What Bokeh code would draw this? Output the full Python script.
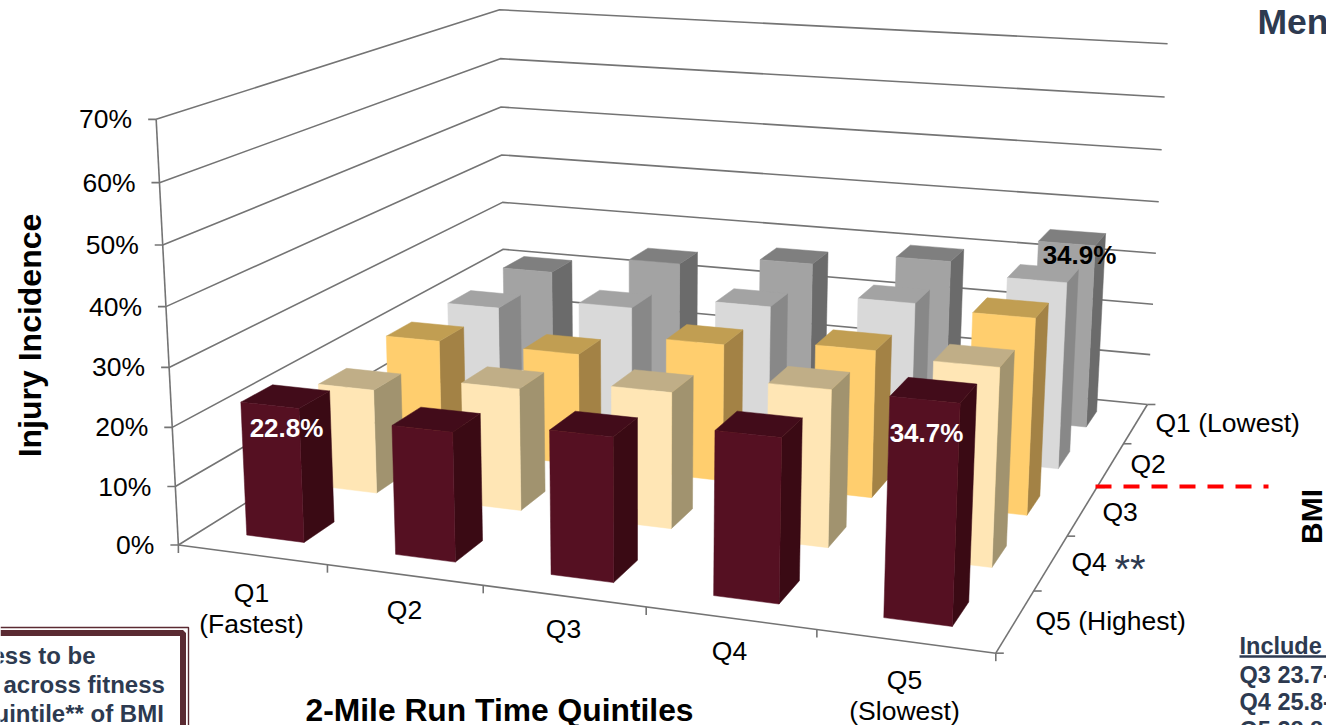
import numpy as np
from bokeh.core.properties import value
from bokeh.embed import file_html
from bokeh.models import Range1d
from bokeh.plotting import figure
from bokeh.resources import INLINE

# Injury incidence (%) by run-time quintile (columns) and BMI quintile (rows, back to front)
run_quintiles = ["Q1", "Q2", "Q3", "Q4", "Q5"]
bmi_q1 = [20.9, 24.8, 27.0, 29.7, 34.9]
bmi_q2 = [20.0, 22.4, 25.0, 28.0, 34.1]
bmi_q3 = [20.3, 20.4, 24.7, 26.2, 34.3]
bmi_q4 = [18.5, 21.4, 23.5, 26.7, 33.0]
bmi_q5 = [22.8, 21.7, 23.8, 26.6, 34.7]
series_rows = [bmi_q5, bmi_q4, bmi_q3, bmi_q2, bmi_q1]  # front row first

value_ticks = [0, 10, 20, 30, 40, 50, 60, 70]
value_max = 70.0

# (front, side, top) shades per row, front row first
row_shades = [
    ("#551022", "#3A0A14", "#420C1A"),
    ("#FFE6B5", "#A1936F", "#C0AE87"),
    ("#FFCE6E", "#A38245", "#C19E52"),
    ("#D9D9D9", "#888888", "#A3A3A3"),
    ("#A3A3A3", "#6B6B6B", "#7F7F7F"),
]

# Camera calibration: box coordinates (across, depth, height) -> page pixels
camera_points = [
    ((0, 0, 0), (178, 545)), ((0, 1, 0), (504, 341)), ((1, 0, 0), (995, 653)), ((1, 1, 0), (1145, 403)),
    ((0, 0, 1), (156, 119)), ((0, 1, 1), (499, 9)), ((1, 1, 1), (1166, 43)),
    ((0, 0, 2 / 7), (172, 427)), ((0, 0, 4 / 7), (165, 305)),
    ((0, 1, 2 / 7), (503, 249)), ((0, 1, 4 / 7), (501, 155)),
    ((1, 1, 2 / 7), (1155, 304)), ((1, 1, 4 / 7), (1159, 202)),
]
rows = []
for (u, v, w), (px, py) in camera_points:
    rows.append([u, v, w, 1, 0, 0, 0, 0, -px * u, -px * v, -px * w, -px])
    rows.append([0, 0, 0, 0, u, v, w, 1, -py * u, -py * v, -py * w, -py])
camera = np.linalg.svd(np.array(rows, dtype=float))[2][-1].reshape(3, 4)


def project(u, v, w):
    x, y, h = camera @ np.array([u, v, w, 1.0])
    return float(x / h), float(y / h)


def polyline(points):
    return [project(*pt)[0] for pt in points], [project(*pt)[1] for pt in points]


p = figure(width=1326, height=725, x_range=Range1d(0, 1326), y_range=Range1d(725, 0),
           x_axis_type=None, y_axis_type=None, toolbar_location=None, output_backend="svg",
           min_border=0, outline_line_color=None, background_fill_color="white", border_fill_color="white")
p.grid.visible = False

AXIS = "#747474"
INK = "#000000"
NAVY = "#2D3A50"
SANS = value("Liberation Sans")

# Wall gridlines, back floor edge and axes
xs, ys = [], []
for t in value_ticks:
    w = t / value_max
    lx, ly = polyline([(0, 0, w), (0, 1, w), (1, 1, w)])
    xs.append(lx)
    ys.append(ly)
for a, b in [((0, 0, 0), (0, 0, 1)), ((0, 0, 0), (1, 0, 0)), ((1, 0, 0), (1, 1, 0))]:
    lx, ly = polyline([a, b])
    xs.append(lx)
    ys.append(ly)
for t in value_ticks:
    x0, y0 = project(0, 0, t / value_max)
    xs.append([x0 - 8, x0])
    ys.append([y0, y0])
for i in range(6):
    x0, y0 = project(i / 5, 0, 0)
    xs.append([x0, x0])
    ys.append([y0, y0 + 8])
for j in range(6):
    x0, y0 = project(1, j / 5, 0)
    xs.append([x0, x0 + 8])
    ys.append([y0, y0])
p.multi_line(xs, ys, line_color=AXIS, line_width=1.6)

# Columns, painted back row first
GAP_LEFT, GAP_RIGHT, GAP_V = 0.30, 0.31, 0.30
face_x, face_y, face_c = [], [], []
for j in range(4, -1, -1):
    for i in range(5):
        w = series_rows[j][i] / value_max
        u0, u1 = (i + GAP_LEFT) / 5, (i + 1 - GAP_RIGHT) / 5
        v0, v1 = (j + GAP_V) / 5, (j + 1 - GAP_V) / 5
        front, side, top = row_shades[j]
        faces = [
            ([(u1, v0, 0), (u1, v1, 0), (u1, v1, w), (u1, v0, w)], side),
            ([(u0, v0, w), (u1, v0, w), (u1, v1, w), (u0, v1, w)], top),
            ([(u0, v0, 0), (u1, v0, 0), (u1, v0, w), (u0, v0, w)], front),
        ]
        for pts, colour in faces:
            fx, fy = polyline(pts)
            face_x.append(fx)
            face_y.append(fy)
            face_c.append(colour)
p.patches(face_x, face_y, fill_color=face_c, line_color=face_c, line_width=0.5)


def label(x, y, text, size=26.5, color=INK, bold=False, align="left", angle=0.0):
    p.text([x], [y], text=[text], text_font=SANS, text_font_size=f"{size}px", text_color=color,
           text_font_style="bold" if bold else "normal", text_align=align, text_baseline="middle", angle=angle)


# Value axis labels
for t in value_ticks:
    x0, y0 = project(0, 0, t / value_max)
    label(x0 - 24, y0, f"{t}%", align="right")

# Run-time axis labels
label(251, 592, "Q1", align="center")
label(251, 623, "(Fastest)", align="center")
label(404, 609, "Q2", align="center")
label(563, 628, "Q3", align="center")
label(729, 650, "Q4", align="center")
label(904, 679, "Q5", align="center")
label(904, 710, "(Slowest)", align="center")

# BMI axis labels
label(1155, 422, "Q1 (Lowest)")
label(1130, 463, "Q2")
label(1102, 511, "Q3")
label(1071, 561, "Q4")
label(1035, 620, "Q5 (Highest)")
label(1114, 568, "**", size=40, color=NAVY)

# Axis titles
label(29, 335, "Injury Incidence", size=32, bold=True, align="center", angle=np.pi / 2)
label(1311, 516, "BMI", size=30, bold=True, align="center", angle=np.pi / 2)
label(499, 709, "2-Mile Run Time Quintiles", size=31.8, bold=True, align="center")

# Value labels on the highlighted columns
label(286, 427, f"{bmi_q5[0]}%", size=26, color="white", bold=True, align="center")
label(926, 432, f"{bmi_q5[4]}%", size=26, color="white", bold=True, align="center")
label(1079, 254, f"{bmi_q1[4]}%", size=26, bold=True, align="center")

# Dashed cut-off marker
p.line([1095, 1268], [486, 486], line_color="#FF0000", line_width=4, line_dash="16 12")

# Headings and side notes running off the page
label(1257, 21, "Men", size=35.5, color=NAVY, bold=True)
label(1239, 645, "Include", size=23.5, color=NAVY, bold=True)
p.line([1239, 1326], [656, 656], line_color=NAVY, line_width=2.5)
label(1239, 674, "Q3 23.7-", size=23.5, color=NAVY, bold=True)
label(1239, 701.5, "Q4 25.8-", size=23.5, color=NAVY, bold=True)
label(1239, 729.5, "Q5 28.8-", size=23.5, color=NAVY, bold=True)

# Framed note at the lower left
FRAME = "#5A2A32"
p.line([0, 188, 188], [627, 627, 725], line_color=FRAME, line_width=1.4)
p.line([0, 182.5, 182.5], [632.5, 632.5, 725], line_color=FRAME, line_width=6)
label(-9, 655, "ess to be", size=24, color=NAVY, bold=True)
label(3, 684, "across fitness", size=24, color=NAVY, bold=True)
label(-6, 713, "uintile** of BMI", size=24, color=NAVY, bold=True)

open("out.html", "w").write(file_html(p, INLINE))
